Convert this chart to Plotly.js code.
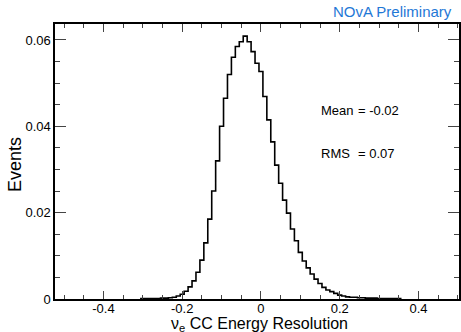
<!DOCTYPE html>
<html>
<head>
<meta charset="utf-8">
<script src="https://cdn.plot.ly/plotly-3.0.1.min.js"></script>
<style>html,body{margin:0;padding:0;background:#fff;}#chart{width:461px;height:332px;}</style>
</head>
<body>
<div id="chart"></div>
<script>
// Bin centers (width 0.01) of the nu_e CC energy resolution histogram
const binCenters = [
  -0.30,-0.29,-0.28,-0.27,-0.26,-0.25,-0.24,-0.23,-0.22,-0.21,
  -0.20,-0.19,-0.18,-0.17,-0.16,-0.15,-0.14,-0.13,-0.12,-0.11,
  -0.10,-0.09,-0.08,-0.07,-0.06,-0.05,-0.04,-0.03,-0.02,-0.01,
   0.00, 0.01, 0.02, 0.03, 0.04, 0.05, 0.06, 0.07, 0.08, 0.09,
   0.10, 0.11, 0.12, 0.13, 0.14, 0.15, 0.16, 0.17, 0.18, 0.19,
   0.20, 0.21, 0.22, 0.23, 0.24, 0.25, 0.26, 0.27, 0.28, 0.29,
   0.30, 0.31, 0.32, 0.33, 0.34, 0.35
];
const binWidth = 0.01;
const events = [
  0.0001,0.0001,0.0001,0.0001,0.0001,0.0002,0.0002,0.0003,0.0004,0.0007,
  0.0011,0.0018,0.0028,0.0042,0.0062,0.0090,0.0130,0.0185,0.0250,0.0320,
  0.0400,0.0465,0.0520,0.0560,0.0585,0.0596,0.0609,0.0596,0.0573,0.0546,
  0.0527,0.0469,0.0415,0.0364,0.0310,0.0268,0.0229,0.0199,0.0162,0.0135,
  0.0108,0.0088,0.0072,0.0058,0.0046,0.0036,0.0027,0.0021,0.0017,0.0013,
  0.0009,0.0007,0.0005,0.0004,0.0004,0.0003,0.0003,0.0002,0.0002,0.0002,
  0.0001,0.0001,0.0001,0.0001,0.0001,0.0001
];
const xTickVals = [-0.4,-0.2,0,0.2,0.4];
const xTickText = ['-0.4','-0.2','0','0.2','0.4'];
const yTickVals = [0,0.02,0.04,0.06];
const yTickText = ['0','0.02','0.04','0.06'];
const xTitle = 'ν<sub>e</sub> CC Energy Resolution';
const yTitle = 'Events';
const meanText = 'Mean';
const meanValue = '= -0.02';
const rmsText = 'RMS';
const rmsValue = '= 0.07';

// build step outline from the bins
const sx = [binCenters[0]-binWidth/2];
const sy = [0];
for (let i=0;i<binCenters.length;i++){ sx.push(binCenters[i]-binWidth/2); sy.push(events[i]); }
sx.push(binCenters[binCenters.length-1]+binWidth/2); sy.push(0);

const font = 'Liberation Sans, Arial, Helvetica, sans-serif';
const W=461,H=332,L=55,R=2,T=24,B=33;
const pw=W-L-R, ph=H-T-B;
const px = v => (v-L)/pw;
const py = v => (H-B-v)/ph;

const trace = {x:sx,y:sy,type:'scatter',mode:'lines',line:{shape:'hv',color:'#000',width:1.6},hoverinfo:'skip',showlegend:false};

const axisCommon = {showline:true,linecolor:'#000',linewidth:1.6,mirror:'ticks',ticks:'inside',tickcolor:'#444',tickwidth:1,
  showgrid:false,zeroline:false,tickfont:{family:font,size:13,color:'#000'},automargin:false};

const txt = (text,x,y,size,color,extra) => Object.assign({text:text,xref:'paper',yref:'paper',x:px(x),y:py(y),xanchor:'left',yanchor:'middle',
  showarrow:false,borderpad:0,font:{family:font,size:size,color:color}},extra||{});

const layout = {
  width:W,height:H,margin:{l:L,r:R,t:T,b:B},paper_bgcolor:'#fff',plot_bgcolor:'#fff',
  xaxis:Object.assign({},axisCommon,{range:[-0.523,0.503],tickmode:'array',tickvals:xTickVals,ticktext:xTickText,ticklen:8,ticklabelstandoff:-3,
    minor:{dtick:0.05,tick0:0,ticks:'inside',ticklen:4,tickcolor:'#444',tickwidth:1}}),
  yaxis:Object.assign({},axisCommon,{range:[0,0.0637],tickmode:'array',tickvals:yTickVals,ticktext:yTickText,ticklen:11,
    minor:{dtick:0.005,tick0:0,ticks:'inside',ticklen:5,tickcolor:'#444',tickwidth:1}}),
  annotations:[
    txt(xTitle,259,324,16,'#000',{xanchor:'center'}),
    txt(yTitle,15,165,18,'#000',{xanchor:'center',textangle:-90}),
    txt('NOvA Preliminary',453,12,15,'#1f78d6',{xanchor:'right'}),
    txt(meanText,320,110,13,'#000'),
    txt(meanValue,357,110,13,'#000'),
    txt(rmsText,320,153,13,'#000'),
    txt(rmsValue,357,153,13,'#000')
  ]
};
Plotly.newPlot('chart',[trace],layout,{staticPlot:true,displayModeBar:false});
</script>
</body>
</html>
